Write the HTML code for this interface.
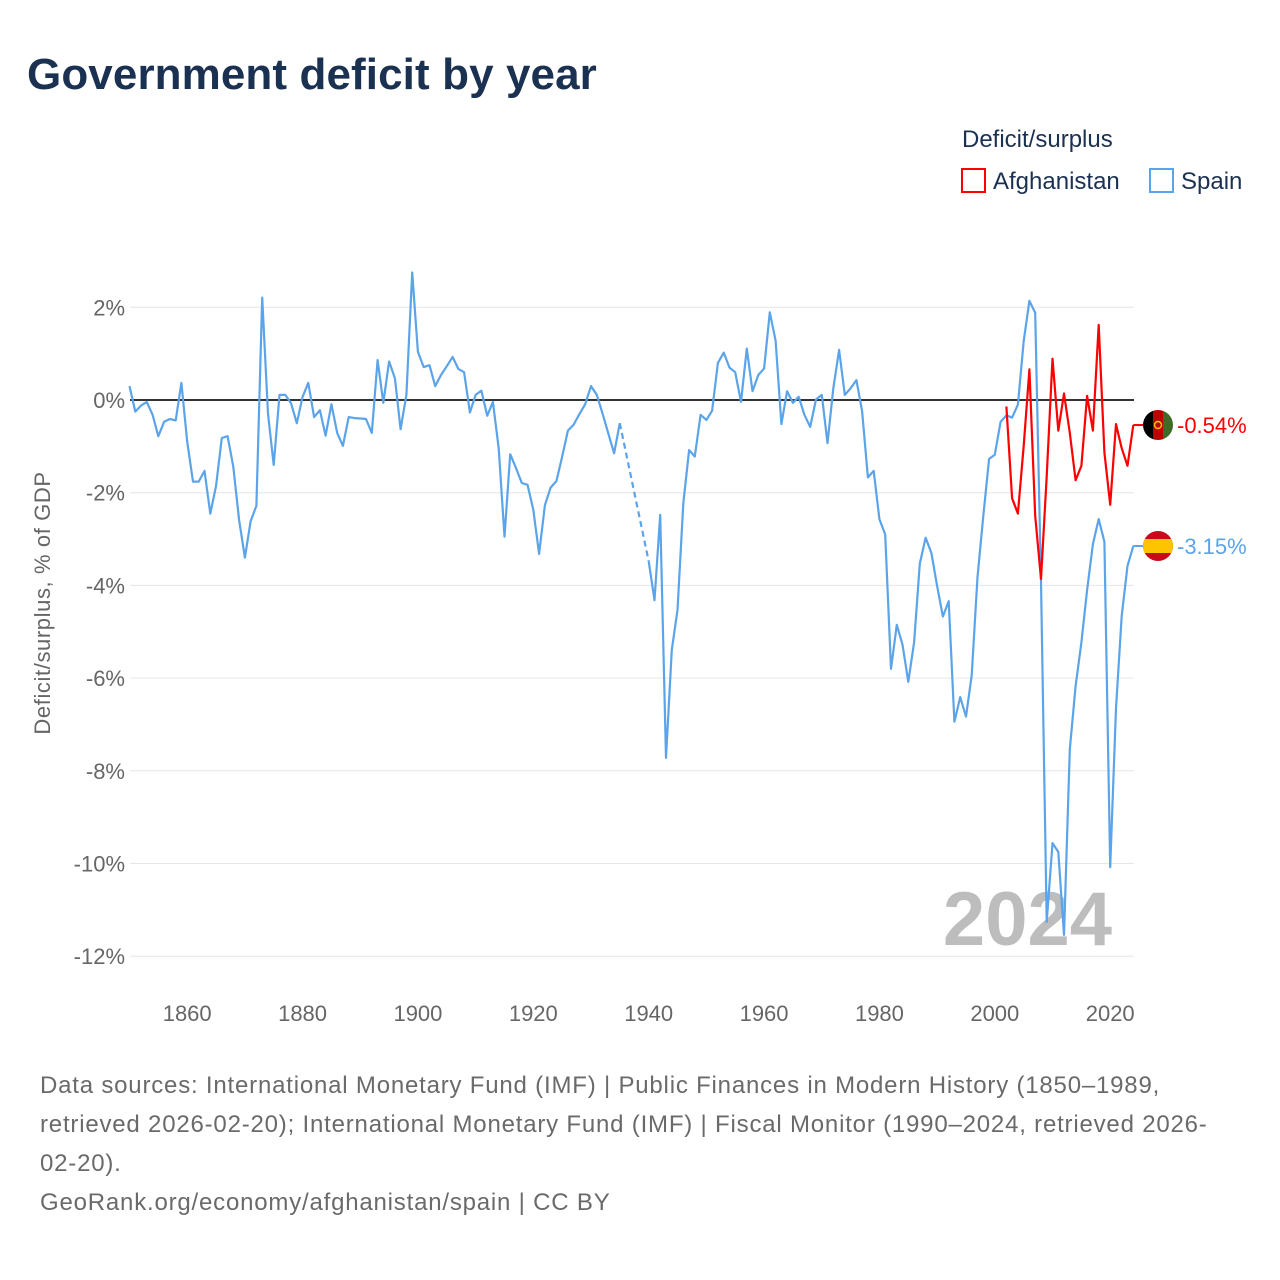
<!DOCTYPE html>
<html><head><meta charset="utf-8">
<style>
body{margin:0;background:#fff;font-family:"Liberation Sans",sans-serif;}
#wrap{position:relative;width:1280px;height:1280px;overflow:hidden;}
h1{position:absolute;left:27px;top:50px;margin:0;font-size:44px;font-weight:bold;color:#1b3152;letter-spacing:0.1px;}
.foot{position:absolute;left:40px;top:1066px;width:1230px;font-size:24px;line-height:39px;color:#6a6a6a;white-space:nowrap;letter-spacing:0.8px;}
</style></head><body>
<div id="wrap">
<h1>Government deficit by year</h1>
<svg id="chart" width="1280" height="1280" style="position:absolute;left:0;top:0"></svg>
<div class="foot">Data sources: International Monetary Fund (IMF) | Public Finances in Modern History (1850–1989,<br>retrieved 2026-02-20); International Monetary Fund (IMF) | Fiscal Monitor (1990–2024, retrieved 2026-<br>02-20).<br>GeoRank.org/economy/afghanistan/spain | CC BY</div>
</div>
<script>
const yTicks=[2,0,-2,-4,-6,-8,-10,-12];
const xTicks=[1860,1880,1900,1920,1940,1960,1980,2000,2020];
const spainYears1=[1850,1851,1852,1853,1854,1855,1856,1857,1858,1859,1860,1861,1862,1863,1864,1865,1866,1867,1868,1869,1870,1871,1872,1873,1874,1875,1876,1877,1878,1879,1880,1881,1882,1883,1884,1885,1886,1887,1888,1889,1890,1891,1892,1893,1894,1895,1896,1897,1898,1899,1900,1901,1902,1903,1904,1905,1906,1907,1908,1909,1910,1911,1912,1913,1914,1915,1916,1917,1918,1919,1920,1921,1922,1923,1924,1925,1926,1927,1928,1929,1930,1931,1932,1933,1934,1935];
const spainValues1=[0.30,-0.25,-0.12,-0.04,-0.32,-0.78,-0.47,-0.41,-0.44,0.37,-0.90,-1.76,-1.76,-1.53,-2.45,-1.86,-0.82,-0.78,-1.44,-2.59,-3.40,-2.62,-2.28,2.21,-0.3,-1.40,0.11,0.11,-0.07,-0.50,0.07,0.37,-0.37,-0.22,-0.77,-0.09,-0.71,-0.99,-0.37,-0.39,-0.40,-0.41,-0.71,0.86,-0.06,0.83,0.47,-0.63,0.11,2.75,1.04,0.71,0.75,0.30,0.54,0.73,0.93,0.67,0.60,-0.27,0.11,0.20,-0.34,-0.04,-1.04,-2.95,-1.17,-1.47,-1.79,-1.83,-2.37,-3.32,-2.27,-1.89,-1.75,-1.22,-0.66,-0.53,-0.30,-0.09,0.30,0.11,-0.29,-0.72,-1.15,-0.50];
const spainGapYears=[1935,1940];
const spainGapValues=[-0.50,-3.48];
const spainYears2=[1940,1941,1942,1943,1944,1945,1946,1947,1948,1949,1950,1951,1952,1953,1954,1955,1956,1957,1958,1959,1960,1961,1962,1963,1964,1965,1966,1967,1968,1969,1970,1971,1972,1973,1974,1975,1976,1977,1978,1979,1980,1981,1982,1983,1984,1985,1986,1987,1988,1989,1990,1991,1992,1993,1994,1995,1996,1997,1998,1999,2000,2001,2002,2003,2004,2005,2006,2007,2008,2009,2010,2011,2012,2013,2014,2015,2016,2017,2018,2019,2020,2021,2022,2023,2024];
const spainValues2=[-3.48,-4.32,-2.48,-7.72,-5.39,-4.53,-2.23,-1.08,-1.22,-0.32,-0.43,-0.23,0.80,1.02,0.70,0.60,-0.04,1.11,0.19,0.54,0.68,1.89,1.28,-0.52,0.19,-0.06,0.07,-0.32,-0.58,0.01,0.11,-0.93,0.25,1.08,0.11,0.25,0.43,-0.24,-1.67,-1.53,-2.57,-2.90,-5.80,-4.85,-5.28,-6.08,-5.23,-3.53,-2.97,-3.30,-4.01,-4.67,-4.34,-6.94,-6.41,-6.83,-5.94,-3.82,-2.50,-1.27,-1.18,-0.47,-0.33,-0.38,-0.10,1.27,2.14,1.88,-3.91,-11.26,-9.56,-9.75,-11.54,-7.54,-6.17,-5.23,-4.10,-3.11,-2.57,-3.06,-10.08,-6.65,-4.66,-3.58,-3.15];
const afgYears=[2002,2003,2004,2005,2006,2007,2008,2009,2010,2011,2012,2013,2014,2015,2016,2017,2018,2019,2020,2021,2022,2023,2024];
const afgValues=[-0.14,-2.12,-2.45,-0.99,0.66,-2.50,-3.86,-1.65,0.89,-0.66,0.14,-0.71,-1.73,-1.42,0.09,-0.66,1.62,-1.13,-2.26,-0.52,-1.04,-1.42,-0.54];

const NS="http://www.w3.org/2000/svg";
const svg=document.getElementById('chart');
const X0=129.5, PX=5.7688, Y0=400, PY=46.35;
const xs=y=>X0+(y-1850)*PX;
const ys=v=>Y0-v*PY;
function mk(tag,attrs,parent){const e=document.createElementNS(NS,tag);for(const k in attrs)e.setAttribute(k,attrs[k]);(parent||svg).appendChild(e);return e;}
function txt(s,attrs){const t=mk('text',attrs);t.textContent=s;return t;}
yTicks.forEach(v=>{
  const l=mk('line',{x1:130,x2:1134,y1:ys(v),y2:ys(v),stroke:v===0?'#333':'#e6e6e6','stroke-width':v===0?2:1});
  
  
  const t=txt((v)+'%',{x:125,y:ys(v)+8,'text-anchor':'end','font-size':22,fill:'#666'});
  
  
});
xTicks.forEach(v=>{
  const t=txt(String(v),{x:xs(v),y:1021,'text-anchor':'middle','font-size':22,fill:'#666'});
  
  
});
const yt=txt('Deficit/surplus, % of GDP',{x:0,y:0,transform:'translate(50,603) rotate(-90)','text-anchor':'middle','font-size':22,fill:'#666','letter-spacing':'0.6'});


const wm=txt('2024',{x:1112,y:945,'text-anchor':'end','font-size':76,'font-weight':'bold',fill:'#bdbdbd'});


function pts(ya,va){return ya.map((y,i)=>xs(y).toFixed(1)+','+ys(va[i]).toFixed(1)).join(' ');}
let p=mk('polyline',{points:pts(spainYears1,spainValues1),fill:'none',stroke:'#5ba4ea','stroke-width':2.2,'stroke-linejoin':'round'});


p=mk('polyline',{points:pts(spainGapYears,spainGapValues),fill:'none',stroke:'#5ba4ea','stroke-width':2.2,'stroke-dasharray':'6,4'});


p=mk('polyline',{points:pts(spainYears2,spainValues2),fill:'none',stroke:'#5ba4ea','stroke-width':2.2,'stroke-linejoin':'round'});


p=mk('polyline',{points:pts(afgYears,afgValues),fill:'none',stroke:'#ff0000','stroke-width':2.2,'stroke-linejoin':'round'});


function endLabel(val,color,name,flag){
  const y=ys(val), cx=1158;
  const l=mk('line',{x1:xs(2024),x2:cx-15,y1:y,y2:y,stroke:color,'stroke-width':2});
  
  
  const g=mk('g',{});
  
  
  const cp=mk('clipPath',{id:'c'+name},g);mk('circle',{cx:cx,cy:y,r:15},cp);
  const gg=mk('g',{'clip-path':'url(#c'+name+')'},g);
  flag(gg,cx,y);
  const t=txt(val.toFixed(2)+'%',{x:1177,y:y+8,'font-size':22,fill:color});
  
  
}
endLabel(afgValues[afgValues.length-1],'#ff0000','afghanistan',(g,cx,y)=>{
  mk('rect',{x:cx-15,y:y-15,width:10,height:30,fill:'#000'},g);
  mk('rect',{x:cx-5,y:y-15,width:10,height:30,fill:'#be0000'},g);
  mk('rect',{x:cx+5,y:y-15,width:10,height:30,fill:'#3e6b26'},g);
  mk('circle',{cx:cx,cy:y,r:3.5,fill:'none',stroke:'#f5c400','stroke-width':1.5},g);
});
endLabel(spainValues2[spainValues2.length-1],'#5ba4ea','spain',(g,cx,y)=>{
  mk('rect',{x:cx-15,y:y-15,width:30,height:30,fill:'#c60b1e'},g);
  mk('rect',{x:cx-15,y:y-7,width:30,height:14,fill:'#ffc400'},g);
});
const lt=txt('Deficit/surplus',{x:962,y:147,'font-size':24,fill:'#1b3152'});


[['Afghanistan','#ff0000',962],['Spain','#5ba4ea',1150]].forEach(([n,c,x])=>{
  const r=mk('rect',{x:x,y:169,width:23,height:23,fill:'#fff',stroke:c,'stroke-width':2});
  
  
  const t=txt(n,{x:x+31,y:189,'font-size':24,fill:'#1b3152'});
  
  
});
</script>
</body></html>
